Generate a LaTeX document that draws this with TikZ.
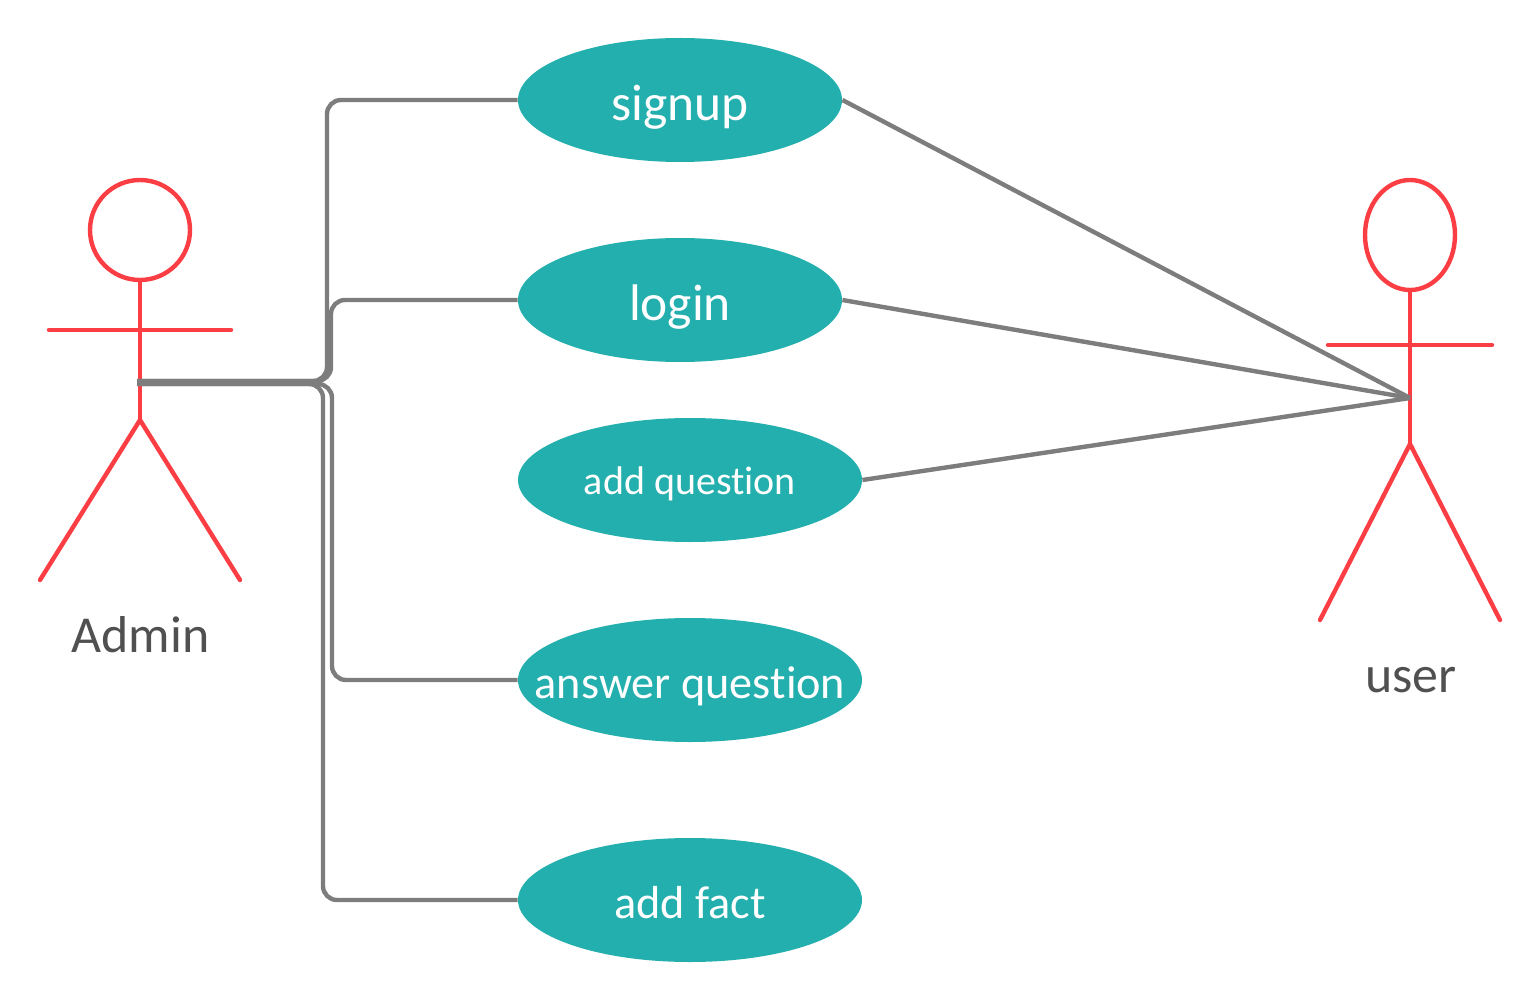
\documentclass[tikz,border=0pt]{standalone}
\usepackage{fontspec}
\setmainfont[Ligatures=NoCommon]{Carlito}
\usetikzlibrary{
  positioning,
  shapes.geometric,
}
\newcommand{\unitpx}{0.48pt}
\definecolor{casefill}{RGB}{35, 175, 173}
\definecolor{actorred}{RGB}{250, 62, 68}
\definecolor{linkgray}{RGB}{125, 125, 125}
\definecolor{labelgray}{RGB}{80, 80, 80}
\tikzstyle{usecase} = [
  ellipse,
  fill=casefill,
  text=white,
  inner ysep=0pt,
  inner xsep=-30pt,
  text depth=0pt,
  minimum height=124*\unitpx,
]
\tikzstyle{actor} = [
  actorred,
  line width=4.4*\unitpx,
  line cap=round,
]
\tikzstyle{link} = [
  linkgray,
  line width=4.4*\unitpx,
  rounded corners=14*\unitpx,
]
\tikzset{casefont/.style={font=\fontsize{#1}{28}\selectfont,text height=0.8*#1 pt}}
\begin{document}
\begin{tikzpicture}[x=0.48pt,y=-0.48pt]

      \useasboundingbox (0,0) rectangle (1540,1000);

      \node[usecase,minimum width=324*\unitpx,casefont=24.7] (signup) at (680,100) {signup};
      \node[usecase,minimum width=324*\unitpx,casefont=24.7] (login) at (680,300) {login};
      \node[usecase,minimum width=344*\unitpx,casefont=19.2,text height=14pt] (addquestion) at (690,480) {add question};
      \node[usecase,minimum width=344*\unitpx,casefont=22.2] (answerquestion) at (690,680) {answer question};
      \node[usecase,minimum width=344*\unitpx,casefont=22.2] (addfact) at (690,900) {add fact};

      % admin
      \node[circle,draw=actorred,line width=4.4*\unitpx,minimum size=100*\unitpx,inner sep=0pt] (adminhead) at (140,230) {};
      \coordinate (adminhip) at (140,420);
      \coordinate (adminhandup) at (137,381);
      \coordinate (adminhanddown) at (137,384);
      \coordinate (adminfootl) at (40,580);
      \coordinate (adminfootr) at (240,580);
      \coordinate (adminarml) at (49,330);
      \coordinate (adminarmr) at (231,330);
      \draw[actor] (adminhead.south) -- (adminhip);
      \draw[actor] (adminarml) -- (adminarmr);
      \draw[actor] (adminfootl) -- (adminhip) -- (adminfootr);
      \node[text=labelgray,font=\fontsize{24.9}{28}\selectfont] (adminlabel) at (140.5,635) {Admin};

      % user
      \node[ellipse,draw=actorred,line width=4.4*\unitpx,minimum width=90*\unitpx,minimum height=110*\unitpx,inner sep=0pt] (userhead) at (1410,235) {};
      \coordinate (userhip) at (1410,444);
      \coordinate (userhand) at (1410,398);
      \coordinate (userfootl) at (1320,620);
      \coordinate (userfootr) at (1500,620);
      \coordinate (userarml) at (1328,345);
      \coordinate (userarmr) at (1492,345);
      \draw[actor] (userhead.south) -- (userhip);
      \draw[actor] (userarml) -- (userarmr);
      \draw[actor] (userfootl) -- (userhip) -- (userfootr);
      \node[text=labelgray,font=\fontsize{24.9}{28}\selectfont] (userlabel) at (1411,680) {user};

      \draw[link] (adminhandup) -| (327,100) -- (signup.west);
      \draw[link] (adminhandup) -| (331,300) -- (login.west);
      \draw[link] (adminhanddown) -| (332,680) -- (answerquestion.west);
      \draw[link] (adminhanddown) -| (323,900) -- (addfact.west);

      \draw[link] (signup.east) -- (userhand);
      \draw[link] (login.east) -- (userhand);
      \draw[link] (addquestion.-0.7) -- (userhand);
    \end{tikzpicture}
\end{document}
